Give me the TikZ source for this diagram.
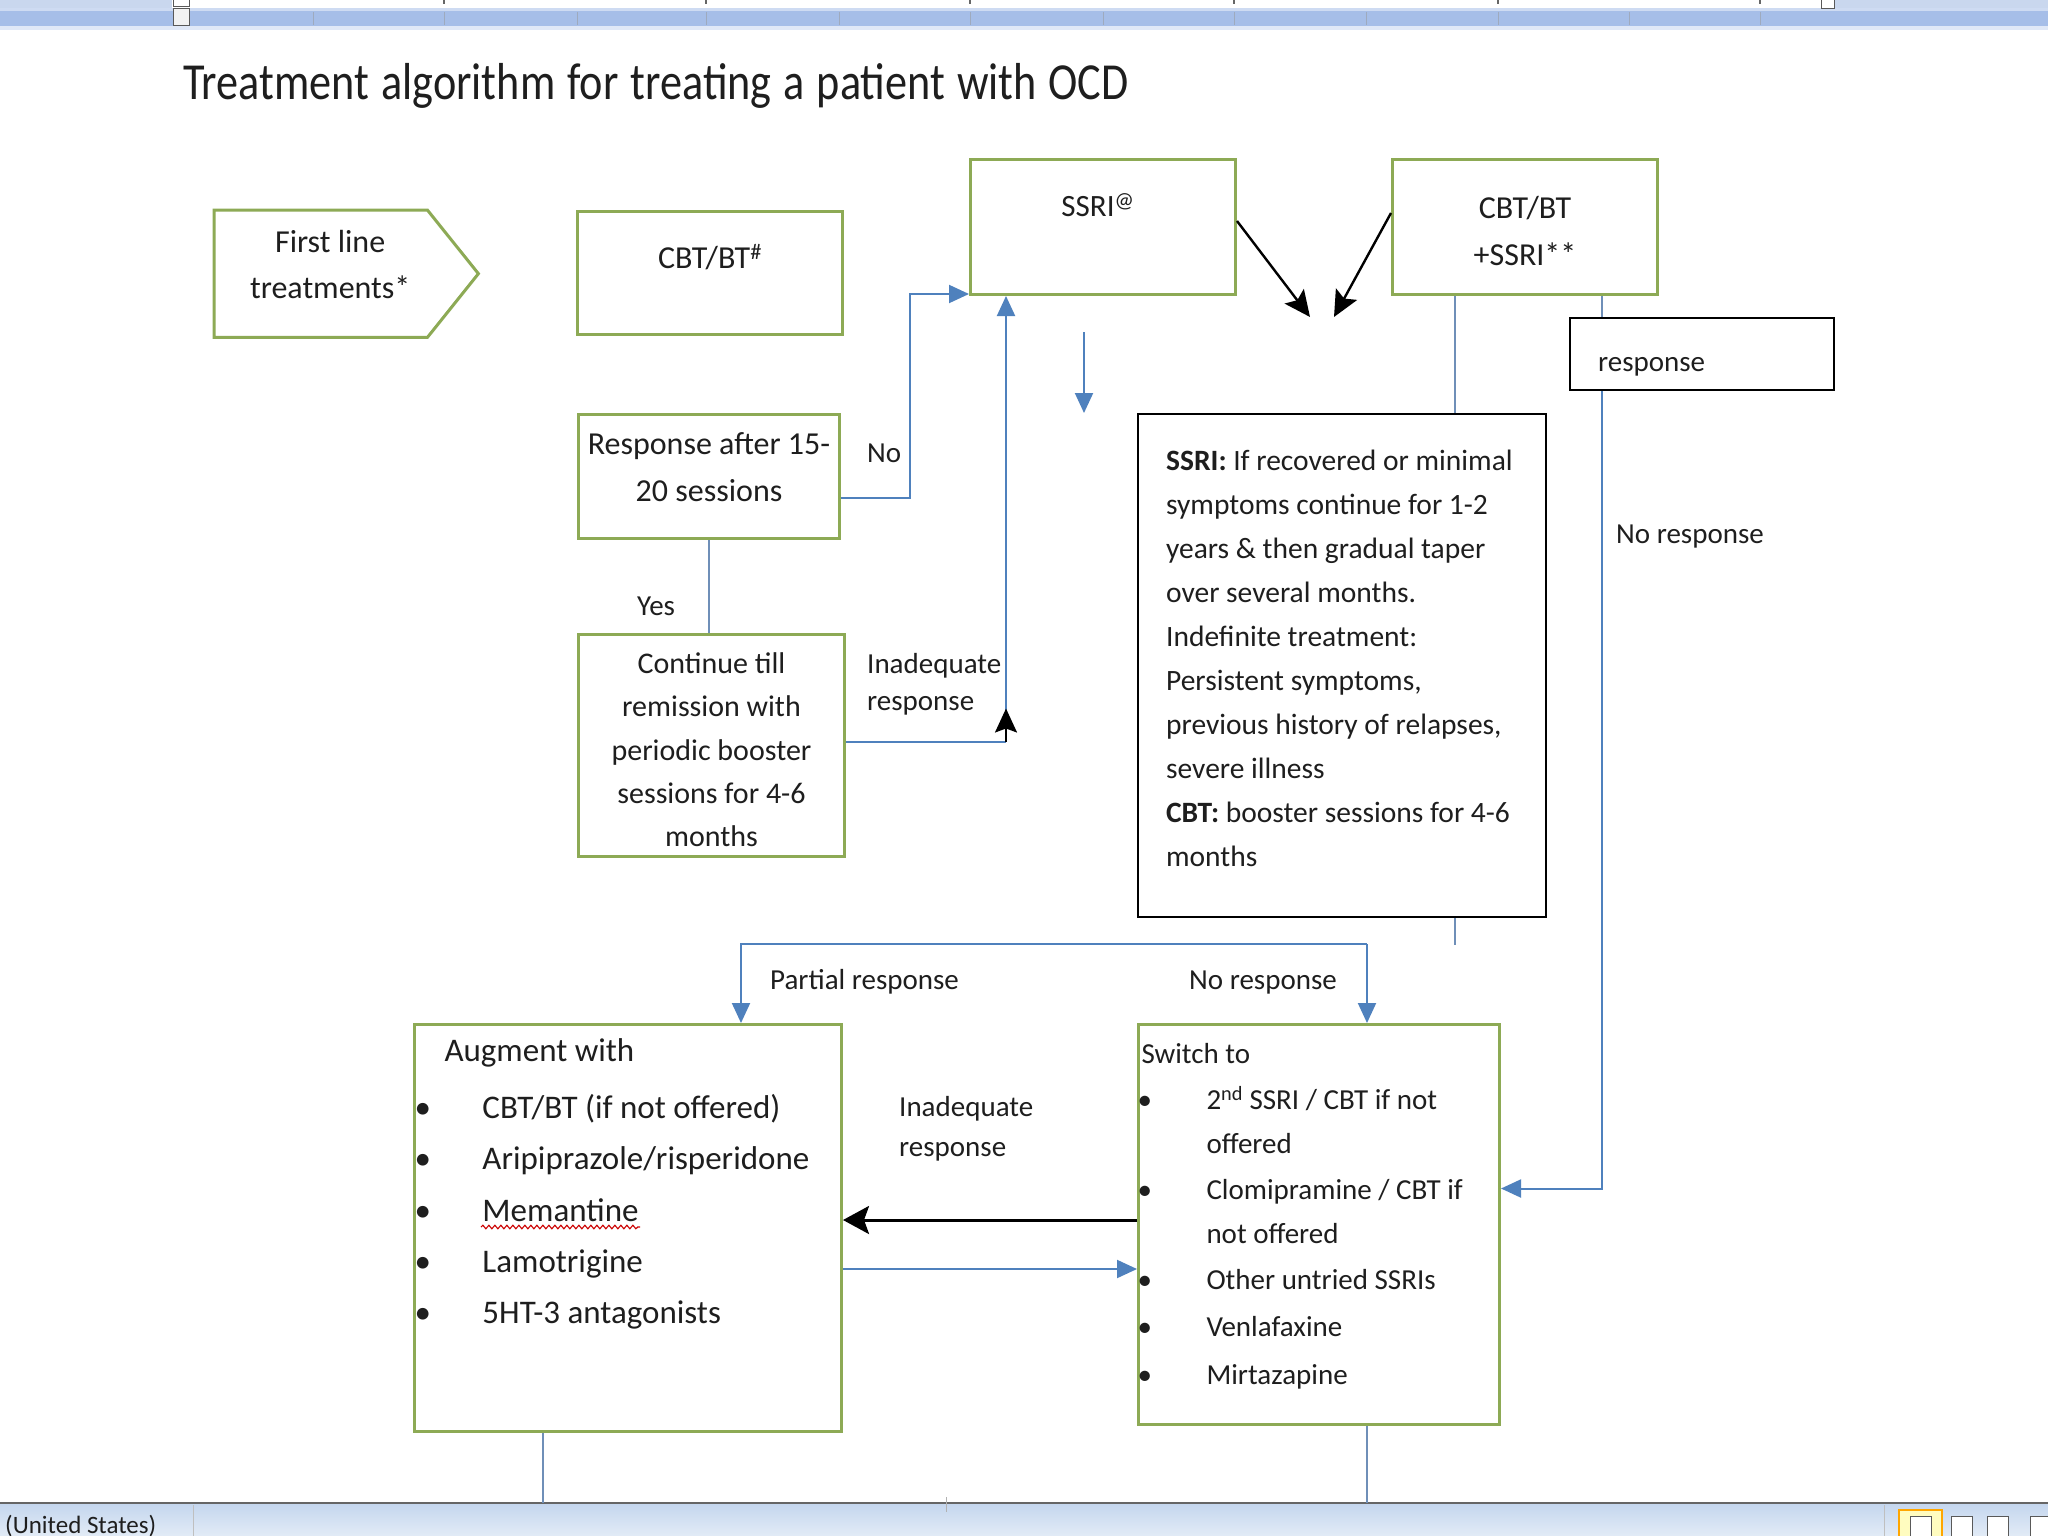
\documentclass[tikz,border=0pt]{standalone}
\usepackage{fontspec}
\setmainfont{Carlito}
\newfontfamily\titlefont{Carlito}[FakeStretch=0.85]
\usetikzlibrary{arrows.meta,decorations.pathmorphing}
\definecolor{gborder}{HTML}{8DAA55}
\definecolor{cblue}{HTML}{4F81BD}
\definecolor{tline}{HTML}{6F8FB8}
\definecolor{rulerblue}{HTML}{A6BEE8}
\definecolor{rulerlight}{HTML}{C9D7EE}
\definecolor{statusA}{HTML}{C4D6EE}
\definecolor{statusB}{HTML}{E2EBF6}
\definecolor{textc}{HTML}{1E1E1E}
\newcommand\fsz[2]{\fontsize{#1pt}{#2pt}\selectfont}
\newcommand\bxt[4]{\parbox[c][#1pt][t]{#2pt}{\rule{0pt}{#3pt}#4}}
\newcommand\bul[1]{\makebox[#1pt][l]{\textbullet}}
\begin{document}
\begin{tikzpicture}[x=1pt,y=-1pt,
  every node/.style={text=textc},
  gbox/.style={draw=gborder, line width=3pt, fill=white, inner sep=0pt, anchor=north west},
  kbox/.style={draw=black, line width=2.2pt, fill=white, inner sep=0pt, anchor=north west},
  txtbox/.style={inner sep=0pt, anchor=north west},
  lbl/.style={anchor=base west, inner sep=0pt, font=\fsz{29}{35}},
  barrow/.style={draw=cblue, line width=2pt, -{Triangle[length=20pt,width=18pt]}},
  bline/.style={draw=cblue, line width=2pt},
  tln/.style={draw=tline, line width=1.6pt},
  karrow/.style={draw=black, line width=2.4pt, -{Stealth[length=26pt,width=24pt,inset=5pt]}},
  karrowbig/.style={draw=black, line width=3pt, -{Stealth[length=26pt,width=28pt,inset=5pt]}},
  karrowsmall/.style={draw=black, line width=2pt, -{Stealth[length=24pt,width=22pt,inset=4pt]}},
]
\useasboundingbox (0,0) rectangle (2048,1536);
\fill[white] (0,0) rectangle (2048,1536);

% ruler (top)
\fill[rulerlight] (0,0) rectangle (172,8);
\fill[rulerlight] (1829,0) rectangle (2048,8);
\fill[rulerblue!55] (0,8) rectangle (2048,11);
\fill[rulerblue] (0,11) rectangle (2048,26);
\fill[rulerblue!35] (0,26) rectangle (2048,30);
\foreach \t in {313,444,577,706,839,970,1103,1234,1366,1498,1629,1760}
  \draw[rulerblue!70!black!70, line width=0.8pt] (\t,12) -- (\t,25);
\foreach \t in {444,706,970,1234,1498,1760}
  \draw[black!60, line width=1.2pt] (\t,0) -- (\t,4);
\draw[fill=white, draw=gray!70!black, line width=1pt] (173,0) rectangle (189,7);
\draw[fill=white!90!gray, draw=gray!70!black, line width=1pt] (173,9) rectangle (189,26);
\draw[fill=white, draw=gray!70!black, line width=1pt] (1821,0) rectangle (1834,9);

% status bar (bottom)
\fill[top color=statusA, bottom color=statusB] (0,1503) rectangle (2048,1536);
\draw[gray!80!black, line width=1.5pt] (0,1503) -- (2048,1503);
\draw[gray!50, line width=1pt] (193,1505) -- (193,1536);
\draw[gray!50, line width=1pt] (1884,1505) -- (1884,1536);
\node[anchor=base west, inner sep=0pt, font=\fsz{25}{30}] (status) at (5,1533) {(United States)};
\draw[orange!70!yellow, fill=yellow!25, line width=1.2pt] (1899,1510) rectangle (1942,1540);
\draw[gray!70!black, fill=white, line width=1pt] (1910,1516) rectangle (1931,1540);
\draw[gray!70!black, fill=white, line width=1pt] (1951,1516) rectangle (1972,1540);
\draw[gray!70!black, fill=white, line width=1pt] (1987,1516) rectangle (2008,1540);
\draw[gray!70!black, fill=white, line width=1pt] (2030,1516) rectangle (2050,1540);

% title
\node[anchor=base west, inner sep=0pt, font=\titlefont\fsz{52}{60}] (title) at (183,100)
  {\spaceskip=12pt plus 2pt\relax Treatment algorithm for treating a patient with OCD};

% boxes
\node[txtbox, minimum width=264pt, minimum height=127pt, font=\fsz{32}{46}] (first) at (214,210)
  {\bxt{127}{264}{42}{\centering\rightskip=32pt plus 1fil\relax First line\\treatments*}};
\draw[gborder, line width=3pt] (first.north west) -- ([xshift=-51pt]first.north east) -- (first.east)
  -- ([xshift=-51pt]first.south east) -- (first.south west) -- cycle;

\node[gbox, minimum width=265pt, minimum height=123pt, font=\fsz{32}{46}] (cbt) at (576,210)
  {\bxt{123}{265}{57}{\centering CBT/BT\textsuperscript{\#}}};
\node[gbox, minimum width=265pt, minimum height=135pt, font=\fsz{31}{46}] (ssri) at (969,158)
  {\bxt{135}{265}{57}{\centering\rightskip=10pt plus 1fil\relax SSRI\textsuperscript{@}}};
\node[gbox, minimum width=265pt, minimum height=135pt, font=\fsz{32}{47}] (cbs) at (1391,158)
  {\bxt{135}{265}{59}{\centering CBT/BT\\+SSRI**}};
\node[gbox, minimum width=261pt, minimum height=124pt, font=\fsz{32}{47}] (resp) at (577,413)
  {\bxt{124}{261}{40}{\centering Response after 15-\\20 sessions}};
\node[gbox, minimum width=266pt, minimum height=222pt, font=\fsz{30}{43.3}] (cont) at (577,633)
  {\bxt{222}{266}{39}{\centering Continue till\\remission with\\periodic booster\\sessions for 4-6\\months}};
\node[kbox, minimum width=408pt, minimum height=503pt, font=\fsz{29.5}{44}] (info) at (1137,413)
  {\bxt{503}{408}{56}{\raggedright\leftskip=28pt\relax
   \textbf{SSRI:} If recovered or minimal\\
   symptoms continue for 1-2\\
   years \& then gradual taper\\
   over several months.\\
   Indefinite treatment:\\
   Persistent symptoms,\\
   previous history of relapses,\\
   severe illness\\
   \textbf{CBT:} booster sessions for 4-6\\
   months}};
\node[kbox, minimum width=264pt, minimum height=72pt, font=\fsz{29}{35}] (rbox) at (1569,317)
  {\bxt{72}{264}{53}{\raggedright\leftskip=28pt\relax response}};
\node[gbox, minimum width=427pt, minimum height=407pt, font=\fsz{33}{51.3}] (aug) at (413,1023)
  {\bxt{407}{427}{37}{\raggedright\leftskip=0pt\relax
   \hspace*{30pt}Augment with\\[5.7pt]
   \bul{68}CBT/BT (if not offered)\\
   \bul{68}Aripiprazole/risperidone\\
   \bul{68}Memantine\\
   \bul{68}Lamotrigine\\
   \bul{68}5HT-3 antagonists}};
\node[gbox, minimum width=361pt, minimum height=400pt, font=\fsz{29}{44}] (sw) at (1137,1023)
  {\bxt{400}{361}{39}{\raggedright\leftskip=3pt\relax
   Switch to\\[2pt]
   \hspace*{-4pt}\bul{69}2\textsuperscript{nd} SSRI / CBT if not\\
   \hspace*{65pt}offered\\[2pt]
   \hspace*{-4pt}\bul{69}Clomipramine / CBT if\\
   \hspace*{65pt}not offered\\[2pt]
   \hspace*{-4pt}\bul{69}Other untried SSRIs\\[3pt]
   \hspace*{-4pt}\bul{69}Venlafaxine\\[4pt]
   \hspace*{-4pt}\bul{69}Mirtazapine}};

% spell-check underline under Memantine
\draw[red!80!black, line width=1.1pt, decorate, decoration={snake, amplitude=1.8pt, segment length=6pt}]
  (481,1227) -- (640,1227);

% labels
\node[lbl] (lno) at (867,462) {No};
\node[lbl] (lyes) at (637,615) {Yes};
\node[lbl] (linad1) at (867,673) {\parbox[t]{160pt}{\fsz{29}{37}Inadequate\\response}};
\node[lbl] (lnoresp1) at (1616,543) {No response};
\node[lbl] (lpartial) at (770,989) {Partial response};
\node[lbl] (lnoresp2) at (1189,989) {No response};
\node[lbl] (linad2) at (899,1116) {\parbox[t]{160pt}{\fsz{29}{40}Inadequate\\response}};

% connectors
\coordinate (nostart) at ([yshift=-21pt]resp.east);
\coordinate (ssrin) at ([yshift=2pt]ssri.south west);
\draw[barrow] (nostart) -- ++(69,0) |- (ssrin);

\draw[tln] (resp.south) -- (resp.south |- cont.north);

\coordinate (conte) at ([yshift=4pt]cont.east);
\coordinate (ssrib) at ([xshift=37pt]ssri.south west);
\coordinate (ia) at (ssrib |- conte);
\draw[bline] (conte) -- (ia);
\draw[barrow] (ia) -- (ssrib);
\draw[karrowsmall] (ia) -- ++(0,-33);

\coordinate (d1) at (1310,317);
\coordinate (d2) at (1334,317);
\draw[karrow] ([yshift=6pt]ssri.east) -- (d1);
\draw[karrow] ([yshift=14pt]cbs.west) -- (d2);

\coordinate (fa1) at (1084,332);
\coordinate (fa2) at (1084,413);
\draw[barrow] (fa1) -- (fa2);

\coordinate (c2) at ([xshift=64pt]cbs.south west);
\draw[tln] (c2) -- (c2 |- info.north);
\coordinate (c2s) at (c2 |- info.south);
\draw[tln] (c2s) -- ++(0,27);

\coordinate (c1) at ([xshift=-57pt]cbs.south east);
\draw[tln] (c1) -- (c1 |- rbox.north);
\coordinate (swr) at ([yshift=36pt]sw.east);
\draw[barrow] (c1 |- rbox.south) |- (swr);

\coordinate (hl) at (0,944);
\coordinate (pa) at ([xshift=328pt]aug.north west);
\coordinate (nr) at ([xshift=230pt]sw.north west);
\draw[barrow] (nr |- hl) -- (pa |- hl) -- (pa);
\draw[barrow] (nr |- hl) -- (nr);

\coordinate (y1) at (0,1220);
\draw[karrowbig] (sw.west |- y1) -- (aug.east |- y1);
\coordinate (y2) at (0,1269);
\draw[barrow] (aug.east |- y2) -- (sw.west |- y2);

\coordinate (sb) at (0,1503);
\coordinate (ab) at ([xshift=130pt]aug.south west);
\draw[tln] (ab) -- (ab |- sb);
\coordinate (sbt) at ([xshift=230pt]sw.south west);
\draw[tln] (sbt) -- (sbt |- sb);
\coordinate (tk1) at (946,1497);
\coordinate (tk2) at (946,1512);
\draw[gray!60, line width=1pt] (tk1) -- (tk2);
\end{tikzpicture}
\end{document}
